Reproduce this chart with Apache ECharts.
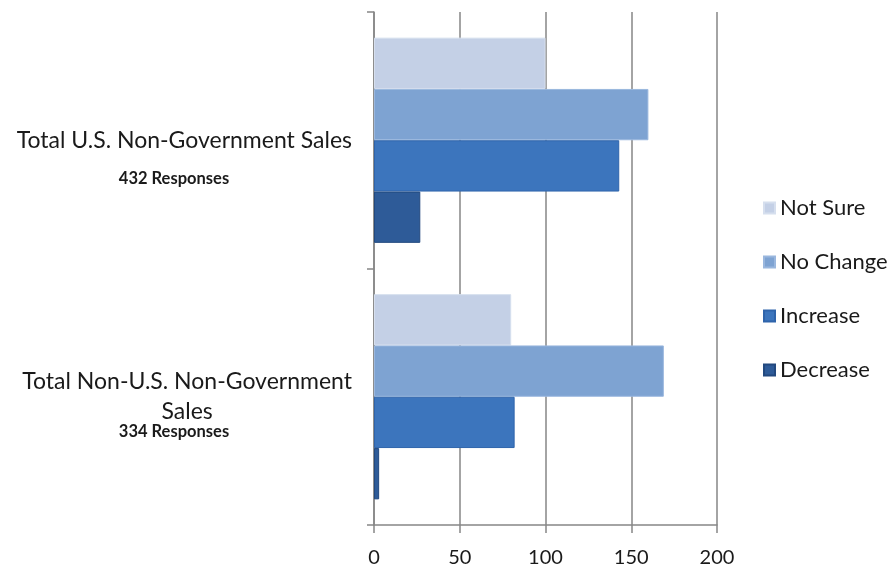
<!DOCTYPE html>
<html>
<head>
<meta charset="utf-8">
<script src="https://cdn.jsdelivr.net/npm/echarts@6/dist/echarts.min.js"></script>
<style>
html,body{margin:0;padding:0;background:#fff;}
#chart{width:894px;height:570px;}
</style>
</head>
<body>
<div id="chart"></div>
<script>
// ---- data ----
const categories = ["Total U.S. Non-Government Sales", "Total Non-U.S. Non-Government\nSales"];
const responses = ["432 Responses", "334 Responses"];
const seriesNames = ["Not Sure", "No Change", "Increase", "Decrease"];
const notSure = [100, 80];
const noChange = [160, 169];
const increase = [143, 82];
const decrease = [27, 3];
const xTicks = [0, 50, 100, 150, 200];

const values = [notSure, noChange, increase, decrease];
const colors = ['#c4d0e6', '#7ea3d2', '#3c75bd', '#2e5b98'];
const borders = ['#d6dfee', '#9ab7de', '#2f64ab', '#22497f'];
const FONT = 'Lato';

const chart = echarts.init(document.getElementById('chart'));
const series = seriesNames.map((n, i) => ({
  name: n,
  type: 'bar',
  data: values[i],
  barGap: '0%',
  barCategoryGap: '20%',
  itemStyle: { color: colors[i], borderColor: borders[i], borderWidth: 1 },
  emphasis: { disabled: true },
  animation: false
}));

chart.setOption({
  animation: false,
  backgroundColor: '#fff',
  grid: { left: 374, top: 12, right: 177, bottom: 45, containLabel: false },
  legend: {
    orient: 'vertical',
    left: 758,
    top: 191,
    data: seriesNames,
    itemWidth: 11,
    itemHeight: 11,
    itemGap: 30,
    icon: 'rect',
    textStyle: { fontFamily: FONT, fontSize: 22, color: '#1a1a1a', lineHeight: 24 },
    selectedMode: false
  },
  xAxis: {
    type: 'value',
    min: xTicks[0],
    max: xTicks[xTicks.length - 1],
    interval: xTicks[1] - xTicks[0],
    axisLine: { show: true, lineStyle: { color: '#868686', width: 1.5 } },
    axisTick: { show: true, length: 8, lineStyle: { color: '#868686', width: 1.5 } },
    splitLine: { show: true, lineStyle: { color: '#868686', width: 1.5 } },
    axisLabel: { fontFamily: FONT, fontSize: 20, color: '#1a1a1a', margin: 23 }
  },
  yAxis: {
    type: 'category',
    inverse: true,
    data: categories,
    axisLine: { show: true, lineStyle: { color: '#868686', width: 1.5 } },
    axisTick: { show: true, length: 7, lineStyle: { color: '#868686', width: 1.5 } },
    axisLabel: {
      margin: 22,
      formatter: v => '{a|' + v + '}',
      rich: { a: { fontFamily: FONT, fontSize: 23, color: '#1a1a1a', align: 'center', lineHeight: 30 } }
    }
  },
  series: series
});

const graphics = categories.map((c, i) => {
  const y = chart.convertToPixel({ yAxisIndex: 0 }, c);
  const off = i === 0 ? 38 : 35;
  return {
    type: 'text',
    x: 174,
    y: y + off,
    style: {
      text: responses[i],
      fontFamily: FONT,
      fontSize: 16.5,
      fontWeight: 'bold',
      fill: '#1a1a1a',
      align: 'center',
      verticalAlign: 'middle'
    }
  };
});
chart.setOption({ graphic: graphics });
</script>
</body>
</html>
